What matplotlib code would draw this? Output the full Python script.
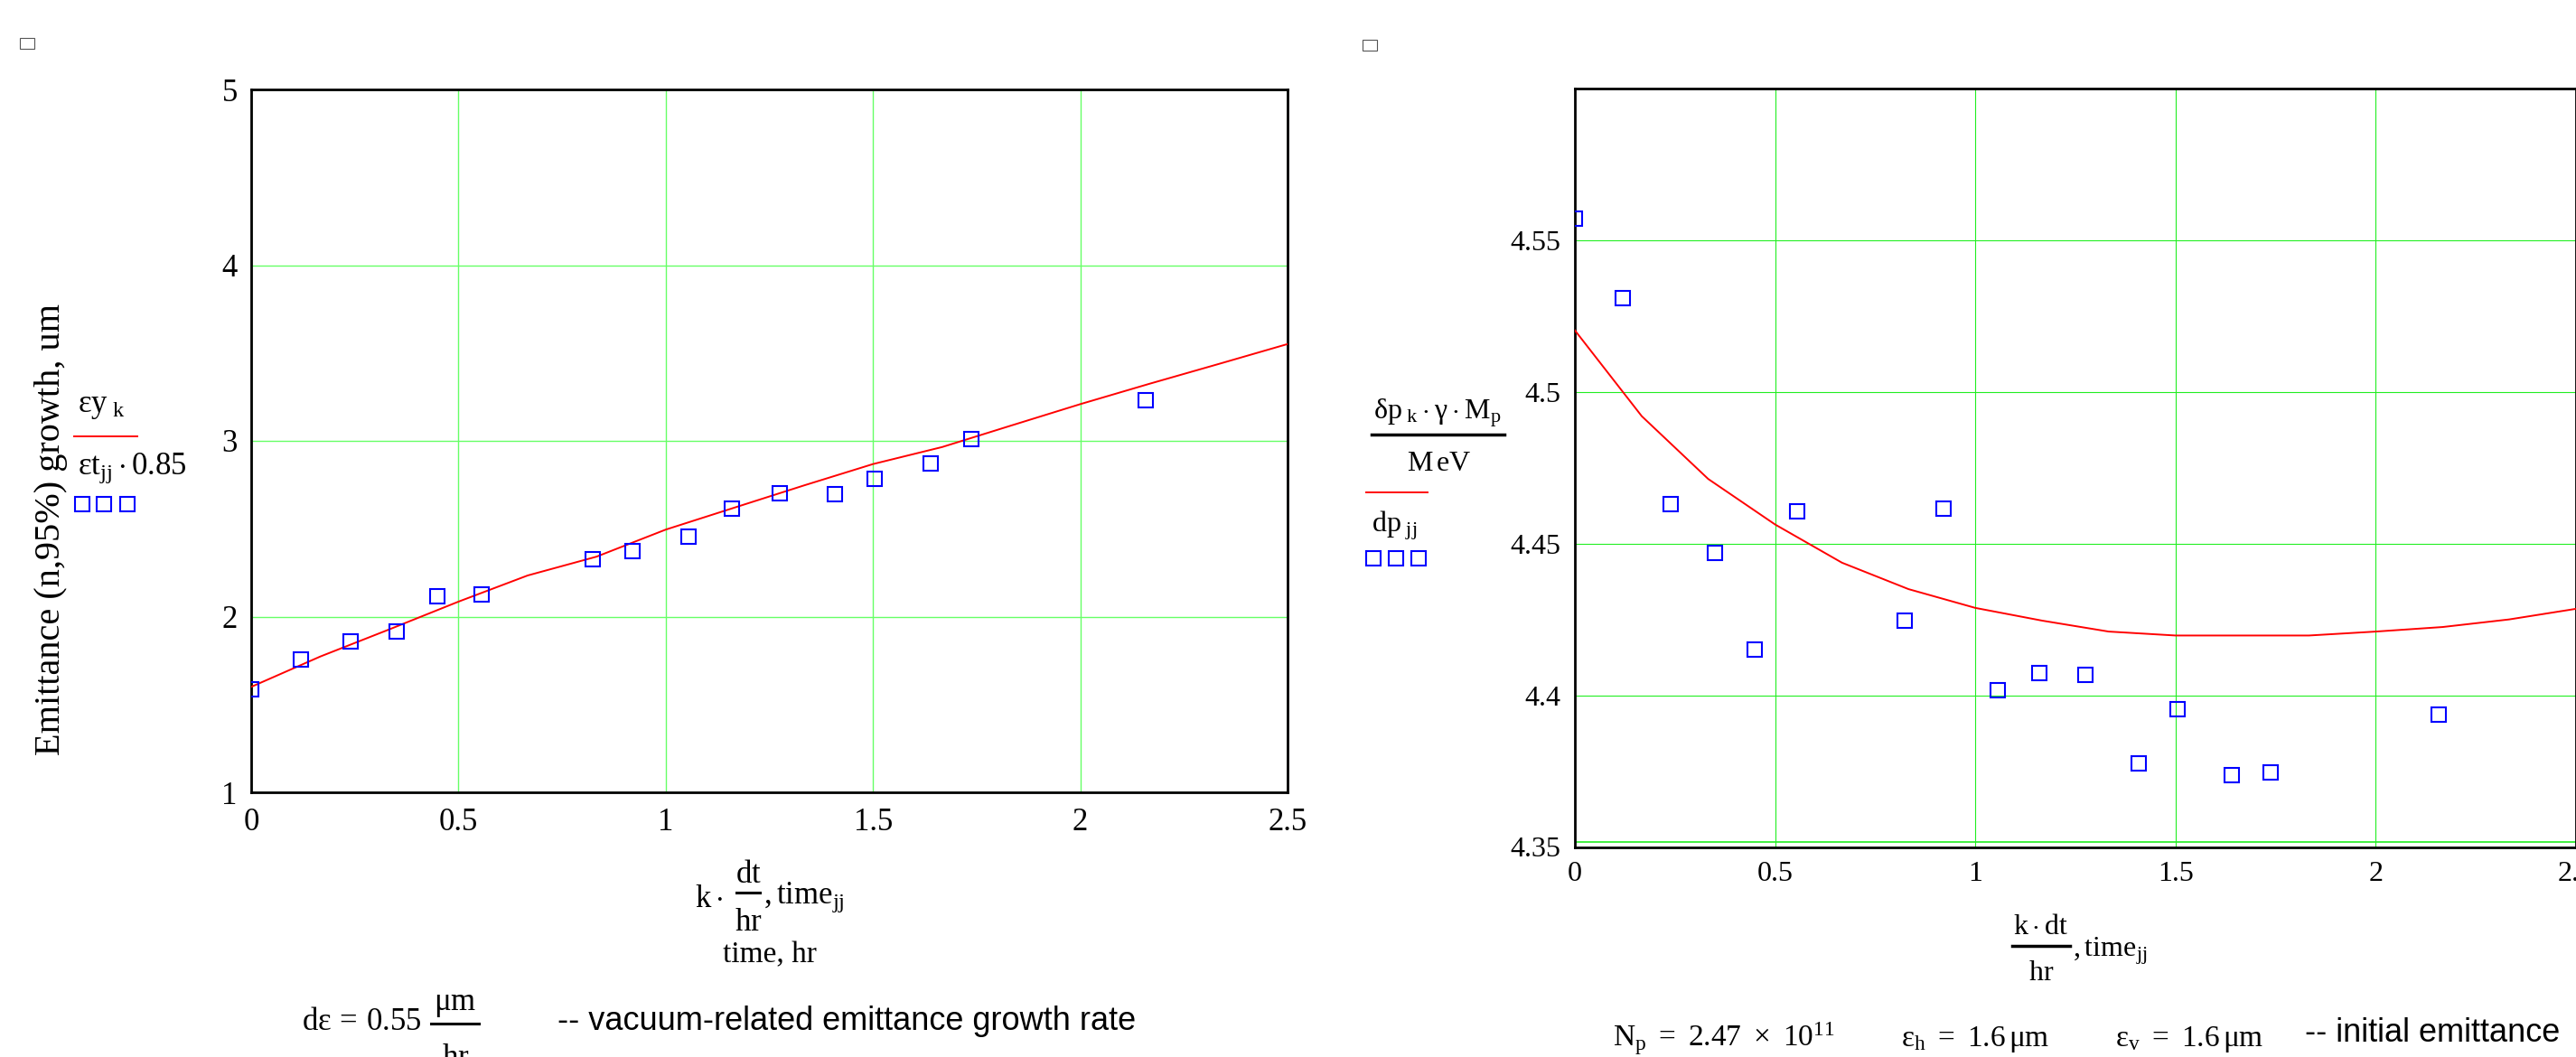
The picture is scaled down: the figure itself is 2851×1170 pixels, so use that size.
import matplotlib
matplotlib.use("Agg")
import matplotlib.pyplot as plt
from matplotlib.lines import Line2D
from matplotlib.patches import Rectangle

plt.rcParams["mathtext.fontset"] = "custom"
plt.rcParams["mathtext.rm"] = "Liberation Serif"
plt.rcParams["mathtext.it"] = "Liberation Serif"
plt.rcParams["mathtext.bf"] = "Liberation Serif:bold"

SERIF = "Liberation Serif"
SANS = "Liberation Sans"

# measured points (time_jj)
time_meas = [0.0, 0.12, 0.24, 0.35, 0.45, 0.555, 0.824, 0.92, 1.056, 1.159,
             1.275, 1.408, 1.505, 1.64, 1.738, 2.157]
emit_meas = [1.585, 1.756, 1.857, 1.915, 2.114, 2.128, 2.329, 2.372, 2.457, 2.616,
             2.701, 2.699, 2.785, 2.870, 3.012, 3.229]
dp_meas = [4.557, 4.531, 4.463, 4.447, 4.415, 4.4605, 4.4245, 4.4614, 4.4018, 4.4073,
           4.4067, 4.3776, 4.3953, 4.3736, 4.3745, 4.3937]

# model curves (k*dt/hr)
time_model = [0.0, 0.167, 0.333, 0.5, 0.667, 0.833, 1.0, 1.167, 1.333, 1.5,
              1.667, 1.833, 2.0, 2.167, 2.333, 2.5]
emit_model = [1.60, 1.773, 1.927, 2.085, 2.234, 2.341, 2.495, 2.621, 2.746, 2.868,
              2.965, 3.087, 3.209, 3.325, 3.437, 3.551]
dp_model = [4.5203, 4.492, 4.4713, 4.4563, 4.4437, 4.435, 4.4288, 4.4246, 4.421, 4.4197,
            4.4197, 4.4197, 4.421, 4.4225, 4.425, 4.4285]

x_ticks = [0, 0.5, 1, 1.5, 2, 2.5]
x_tick_labels = ["0", "0.5", "1", "1.5", "2", "2.5"]
emit_ticks = [1, 2, 3, 4, 5]
emit_tick_labels = ["1", "2", "3", "4", "5"]
dp_ticks = [4.35, 4.4, 4.45, 4.5, 4.55]
dp_tick_labels = ["4.35", "4.4", "4.45", "4.5", "4.55"]

W, H = 2851, 1170
fig = plt.figure(figsize=(W / 100, H / 100), dpi=100)


def box(l, t, r, b):
    return [l / W, 1 - b / H, (r - l) / W, (b - t) / H]


def ftext(x, y, s, **kw):
    return fig.text(x / W, 1 - y / H, s, **kw)


def hbar(x0, x1, y, color="black", lw=2):
    fig.add_artist(Line2D([x0 / W, x1 / W], [1 - y / H] * 2,
                          transform=fig.transFigure, color=color, lw=lw))


def style_axes(ax, grid_color, grid_lw, size, xpad, ypad):
    for sp in ax.spines.values():
        sp.set_linewidth(2)
        sp.set_color("black")
    ax.tick_params(length=0, labelsize=size)
    ax.tick_params(axis="x", pad=xpad)
    ax.tick_params(axis="y", pad=ypad)
    for lab in ax.get_xticklabels() + ax.get_yticklabels():
        lab.set_family(SERIF)
    ax.grid(True, color=grid_color, lw=grid_lw)
    ax.set_axisbelow(True)


# ---- left: emittance ----
ax1 = fig.add_axes(box(278, 99, 1425, 877))
ax1.plot(time_model, emit_model, color="red", lw=1.4, zorder=3)
ax1.plot(time_meas, emit_meas, ls="none", marker="s", ms=12, mfc="none",
         mec="blue", mew=1.5, zorder=4)
ax1.set_xlim(0, 2.5)
ax1.set_ylim(1, 5)
ax1.set_xticks(x_ticks)
ax1.set_xticklabels(x_tick_labels)
ax1.set_yticks(emit_ticks)
ax1.set_yticklabels(emit_tick_labels)
style_axes(ax1, "#66ff66", 1.0, 25, 12, 11)

# ---- right: momentum spread ----
ax2 = fig.add_axes(box(1743, 98, 2851, 937.5))
ax2.plot(time_model, dp_model, color="red", lw=1.4, zorder=3)
ax2.plot(time_meas, dp_meas, ls="none", marker="s", ms=11.5, mfc="none",
         mec="blue", mew=1.5, zorder=4)
ax2.set_xlim(0, 2.5)
ax2.set_ylim(4.35, 4.6)
ax2.set_xticks(x_ticks)
ax2.set_xticklabels(x_tick_labels)
ax2.set_yticks(dp_ticks)
ax2.set_yticklabels(dp_tick_labels)
style_axes(ax2, "#22ee22", 0.8, 23, 11, 11)
ax2.axhline(4.3515, color="#22ee22", lw=1.2, zorder=1)

# small placeholder boxes (Mathcad region markers)
fig.add_artist(Rectangle((22 / W, 1 - 54 / H), 16 / W, 12 / H, transform=fig.transFigure,
                         fill=False, ec="#555555", lw=0.8))
fig.add_artist(Rectangle((1508 / W, 1 - 56 / H), 16 / W, 12 / H, transform=fig.transFigure,
                         fill=False, ec="#555555", lw=0.8))

# left y labels / legend
ftext(57, 586, "Emittance (n,95%) growth, um", rotation=90, family=SERIF,
      fontsize=29, ha="center", va="center")
ftext(86, 449, r"$εy_{\ k}$", fontsize=25, ha="left", va="center")
hbar(82, 152, 483, color="red", lw=1.4)
ftext(86, 518, r"$εt_{jj}\cdot 0.85$", fontsize=25, ha="left", va="center")
fig.add_artist(Line2D([90.5 / W, 115 / W, 140.5 / W], [1 - 558 / H] * 3,
                      transform=fig.transFigure, ls="none", marker="s", ms=12,
                      mfc="none", mec="blue", mew=1.5))

# left x label:  k * dt/hr , time_jj
ftext(801, 994, r"$k\cdot$", fontsize=25, ha="right", va="center")
ftext(828, 977, r"$dt$", fontsize=25, ha="center", va="baseline")
hbar(815, 841, 988, lw=2.2)
ftext(828, 1030, r"$hr$", fontsize=25, ha="center", va="baseline")
ftext(845, 1000, r"$, \mathrm{time}_{jj}$", fontsize=25, ha="left", va="baseline")
ftext(852, 1057, "time, hr", family=SERIF, fontsize=24, ha="center", va="center")

# left bottom note
ftext(334, 1140, r"$d\varepsilon\,=\,0.55$", fontsize=25, ha="left", va="baseline")
ftext(504, 1118, r"$\mu m$", fontsize=25, ha="center", va="baseline")
hbar(477, 530, 1133, lw=2.2)
ftext(504, 1180, r"$hr$", fontsize=25, ha="center", va="baseline")
ftext(617, 1130, "-- vacuum-related emittance growth rate", family=SANS,
      fontsize=26, ha="left", va="center")

# right y labels / legend
ftext(1591, 464, r"$\delta p_{\ k}\cdot\gamma\cdot M_{p}$", fontsize=23,
      ha="center", va="baseline")
hbar(1518, 1665, 481, lw=2.5)
ftext(1593, 521, r"$M\,eV$", fontsize=23, ha="center", va="baseline")
hbar(1512, 1580, 545, color="red", lw=1.4)
ftext(1518, 582, r"$dp_{\ jj}$", fontsize=23, ha="left", va="center")
fig.add_artist(Line2D([1520 / W, 1545 / W, 1570 / W], [1 - 618 / H] * 3,
                      transform=fig.transFigure, ls="none", marker="s", ms=11.5,
                      mfc="none", mec="blue", mew=1.5))

# right x label:  k*dt/hr , time_jj
ftext(2259, 1034, r"$k\cdot dt$", fontsize=23, ha="center", va="baseline")
hbar(2227, 2291, 1047, lw=2.5)
ftext(2259, 1085, r"$hr$", fontsize=23, ha="center", va="baseline")
ftext(2294, 1058, r"$, \mathrm{time}_{jj}$", fontsize=23, ha="left", va="baseline")

# right bottom notes
ftext(1785, 1158, r"$N_{p}\ =\ 2.47\ \times\ 10^{11}$", fontsize=24, ha="left", va="baseline")
ftext(2104, 1158, r"$\varepsilon_{h}\ =\ 1.6\,\mu m$", fontsize=24, ha="left", va="baseline")
ftext(2341, 1158, r"$\varepsilon_{v}\ =\ 1.6\,\mu m$", fontsize=24, ha="left", va="baseline")
ftext(2551, 1153, "-- initial emittance", family=SANS, fontsize=26,
      ha="left", va="baseline")

fig.savefig("out.png", dpi=100)
